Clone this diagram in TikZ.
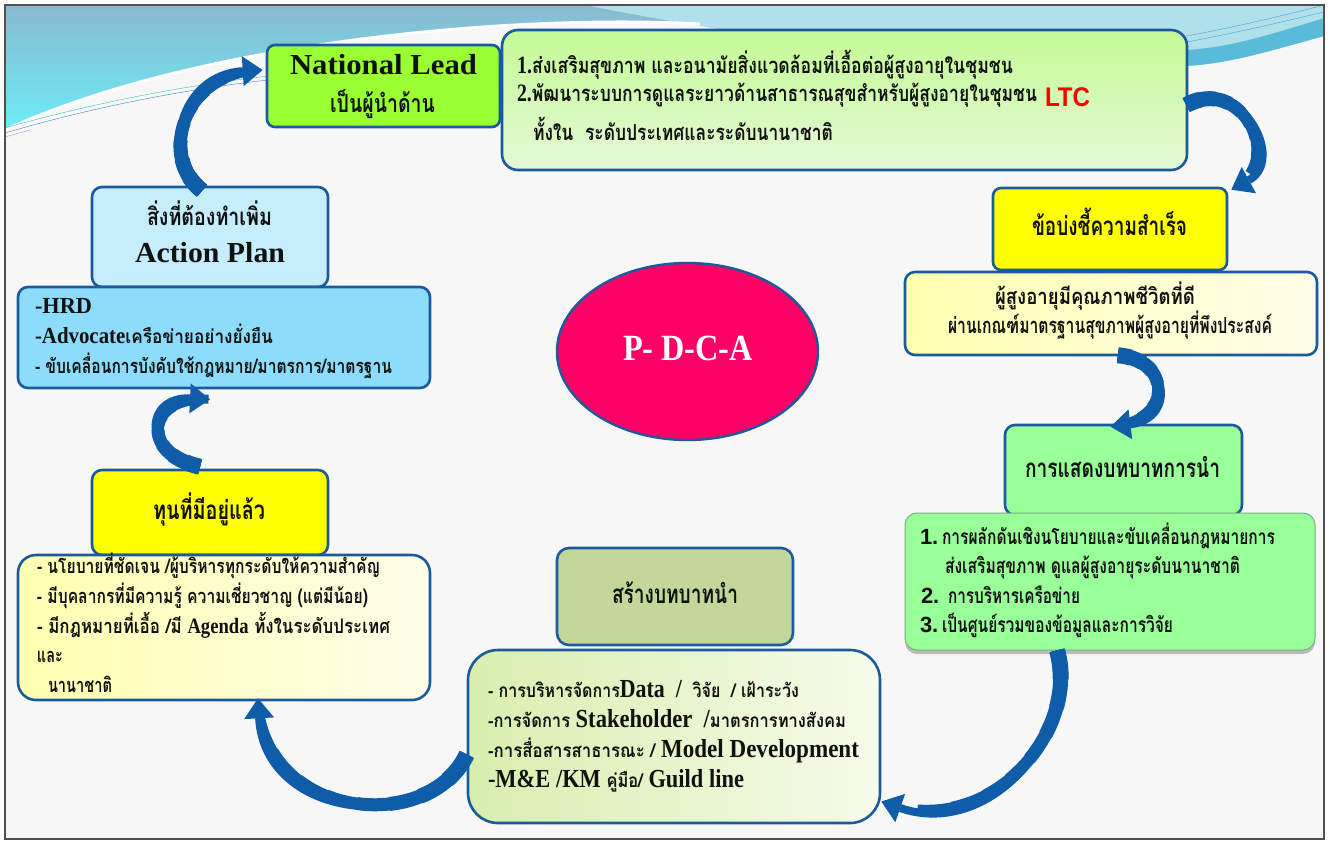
\documentclass[tikz,border=0pt]{standalone}
\usepackage{fontspec}
\usepackage{graphicx}
\setmainfont{Liberation Serif}
\newfontfamily\thaifont[Script=Thai]{Loma}
\newfontfamily\lsans{Liberation Sans}
\usetikzlibrary{calc,arrows.meta,shadows,shapes.geometric}

% text helpers: Thai bold, Latin serif bold, Latin sans bold
\newcommand{\thx}[2]{{\thaifont\bfseries\fontsize{#1}{#1}\selectfont #2}}
\newcommand{\latb}[2]{{\bfseries\fontsize{#1}{#1}\selectfont #2}}
\newcommand{\sanb}[2]{{\lsans\bfseries\fontsize{#1}{#1}\selectfont #2}}
% set a line to a given width, keeping its height
\newcommand{\fitto}[2]{\resizebox{#1pt}{\height}{#2}}
% curved block arrow: thick at its tail, thinning towards the head
% #1 = path, #2 = approximate path length
\newcommand{\flowarrow}[2]{%
  \foreach \w/\f in {16/0.10, 15/0.20, 14/0.30, 13/0.40, 12/0.50, 11/0.60, 10/0.72, 9/0.84}{%
    \pgfmathsetmacro\dashlen{\f*#2}%
    \draw[draw=arrowblue, line width=\w pt, dash pattern=on \dashlen pt off 4000pt] #1;
  }%
  \draw[flow] #1;
}

\definecolor{edgeblue}{HTML}{1B5A9C}
\definecolor{arrowblue}{HTML}{0F5CA8}
\definecolor{paper}{HTML}{F7F7F7}
\definecolor{framegray}{HTML}{505050}
\definecolor{skytop}{HTML}{88BACF}
\definecolor{skycyan}{HTML}{6CECF8}
\definecolor{swirl}{HTML}{B0E0EA}
\definecolor{swirldark}{HTML}{5ABBD9}
\definecolor{streamteal}{HTML}{35C6B9}
\definecolor{streamblue}{HTML}{4A80C8}
\definecolor{streamsky}{HTML}{4AA0D8}
\definecolor{streamgray}{HTML}{A8A8A8}
\definecolor{lime}{HTML}{99FF33}
\definecolor{goalA}{HTML}{C4FA95}
\definecolor{goalB}{HTML}{E4F9D6}
\definecolor{sunny}{HTML}{FFFF00}
\definecolor{creamA}{HTML}{FFFFB0}
\definecolor{creamB}{HTML}{FEFDE8}
\definecolor{mint}{HTML}{99FF99}
\definecolor{mintedge}{HTML}{79B079}
\definecolor{olive}{HTML}{C4D79B}
\definecolor{paleA}{HTML}{D8EEAE}
\definecolor{paleB}{HTML}{F6FBEA}
\definecolor{iceblue}{HTML}{C6EDFB}
\definecolor{skyblue}{HTML}{8DDCFB}
\definecolor{hotpink}{HTML}{FF0066}
\definecolor{ltcred}{HTML}{FF0000}
\definecolor{inkblack}{HTML}{111111}

\begin{document}
\begin{tikzpicture}[x=1pt,y=-1pt,
  panel/.style={draw=edgeblue, line width=2.6pt, rounded corners=10pt, inner sep=0pt},
  lbl/.style={inner sep=0pt, outer sep=0pt, anchor=base west, text=inkblack},
  flow/.style={draw=arrowblue, line width=8pt,
    -{Triangle[width=30pt,length=20pt,line width=0pt]}},
]
\useasboundingbox (0,0) rectangle (1330,844);
\fill[white] (0,0) rectangle (1330,844);
\fill[paper] (5,5) rectangle (1324,839);

% sky band, upper left
\shade[top color=skytop, bottom color=skycyan]
  (5,5) -- (700,5) -- (700,24) .. controls (520,14) and (200,40) .. (5,130) -- cycle;
% swoosh, upper right
\fill[swirl] (585,5) -- (1324,5) -- (1324,36)
  .. controls (1260,54) and (1225,64) .. (1185,66)
  .. controls (1000,72) and (760,40) .. (585,5) -- cycle;
\fill[swirldark] (1324,18) .. controls (1260,38) and (1225,48) .. (1185,50)
  .. controls (1100,54) and (1000,50) .. (900,40)
  .. controls (1000,58) and (1100,68) .. (1185,66)
  .. controls (1225,64) and (1260,54) .. (1324,36) -- cycle;
\draw[draw=white, line width=3pt] (5,130) .. controls (200,40) and (520,14) .. (700,24);
% thin streamers
\draw[draw=streamteal] (5,128) .. controls (90,104) and (180,86) .. (268,76);
\draw[draw=streamblue] (5,133) .. controls (90,108) and (180,90) .. (268,80);
\draw[draw=streamgray] (5,137) -- (30,130);
\draw[draw=streamsky] (1187,36) .. controls (1240,26) and (1290,14) .. (1324,5);
\draw[draw=streamsky] (1187,42) .. controls (1240,32) and (1290,20) .. (1324,12);
\draw[draw=framegray, line width=1.2pt] (5,5) rectangle (1324,839);

% ---------- boxes ----------
\node[panel, fill=lime, rounded corners=8pt, minimum width=233pt, minimum height=82pt] (nl) at (383.5,86) {};
\node[panel, top color=goalA, bottom color=goalB, rounded corners=16pt, minimum width=685pt, minimum height=140pt] (goal) at (844.5,100) {};

\node[panel, fill=sunny, rounded corners=8pt, minimum width=234pt, minimum height=82pt] (succ) at (1110,229) {};
\node[panel, left color=creamA, right color=creamB, minimum width=412pt, minimum height=83pt] (succd) at (1111,313.5) {};

\node[panel, fill=mint, minimum width=237pt, minimum height=90pt] (role) at (1123.5,470) {};
\node[draw=mintedge, line width=1pt, fill=mint, rounded corners=12pt, inner sep=0pt,
  drop shadow={shadow xshift=0pt, shadow yshift=-4pt, fill=black!45, opacity=.55},
  minimum width=410pt, minimum height=137pt] (roled) at (1110,581.5) {};

\node[panel, fill=olive, rounded corners=12pt, minimum width=236pt, minimum height=97pt] (build) at (675,596.5) {};
\node[panel, left color=paleA, right color=paleB, rounded corners=30pt, minimum width=412pt, minimum height=173pt] (buildd) at (674,736.5) {};

\node[panel, fill=iceblue, minimum width=236pt, minimum height=100pt] (act) at (210,237) {};
\node[panel, fill=skyblue, minimum width=412pt, minimum height=101pt] (actd) at (224,337.5) {};

\node[panel, fill=sunny, minimum width=236pt, minimum height=85pt] (cap) at (210,512.5) {};
\node[panel, left color=creamA, right color=creamB, rounded corners=18pt, minimum width=412pt, minimum height=145pt] (capd) at (224,627.5) {};

\node[ellipse, draw=edgeblue, line width=2.4pt, fill=hotpink, minimum width=261pt, minimum height=177pt, inner sep=0pt] (pdca) at (687.5,351.5) {};

% ---------- texts ----------
\node[lbl] (nlA) at (290,74) {\fitto{187}{\latb{29}{National Lead}}};
\node[lbl] (nlB) at (330,112) {\fitto{105}{\thx{25}{เป็นผู้นำด้าน}}};

\node[lbl] (goalA1) at (517,73) {\fitto{496}{\latb{25}{1.}\thx{22}{ส่งเสริมสุขภาพ และอนามัยสิ่งแวดล้อมที่เอื้อต่อผู้สูงอายุในชุมชน}}};
\node[lbl] (goalA2) at (517,101) {\fitto{520}{\latb{25}{2.}\thx{22}{พัฒนาระบบการดูแลระยาวด้านสาธารณสุขสำหรับผู้สูงอายุในชุมชน}}};
\node[lbl, text=ltcred] (ltc) at (1045,106) {\fitto{45}{\sanb{27}{LTC}}};
\node[lbl] (goalA3) at (533,140) {\fitto{300}{\thx{22}{ทั้งใน\ \ ระดับประเทศและระดับนานาชาติ}}};

\node[lbl] (succT) at (1032,235) {\fitto{155}{\thx{26}{ข้อบ่งชี้ความสำเร็จ}}};
\node[lbl] (succT1) at (995,304) {\fitto{200}{\thx{22}{ผู้สูงอายุมีคุณภาพชีวิตที่ดี}}};
\node[lbl] (succT2) at (948,333) {\fitto{324}{\thx{22}{ผ่านเกณฑ์มาตรฐานสุขภาพผู้สูงอายุที่พึงประสงค์}}};

\node[lbl] (roleT) at (1025,477) {\fitto{195}{\thx{26}{การแสดงบทบาทการนำ}}};
\node[lbl] (roleN1) at (920,544) {\sanb{22}{1.}};
\node[lbl] (roleT1) at (942,544) {\fitto{333}{\thx{21}{การผลักดันเชิงนโยบายและขับเคลื่อนกฎหมายการ}}};
\node[lbl] (roleT1b) at (945,573) {\fitto{295}{\thx{21}{ส่งเสริมสุขภาพ ดูแลผู้สูงอายุระดับนานาชาติ}}};
\node[lbl] (roleN2) at (921,603) {\sanb{22}{2.}};
\node[lbl] (roleT2) at (948,603) {\fitto{132}{\thx{21}{การบริหารเครือข่าย}}};
\node[lbl] (roleN3) at (920,632) {\sanb{22}{3.}};
\node[lbl] (roleT3) at (942,632) {\fitto{231}{\thx{21}{เป็นศูนย์รวมของข้อมูลและการวิจัย}}};

\node[lbl] (buildT) at (612,603) {\fitto{126}{\thx{26}{สร้างบทบาทนำ}}};
\node[lbl] (buildT1) at (488,697) {\fitto{311}{\thx{19}{- การบริหารจัดการ}\latb{26}{Data\ \ /}\thx{19}{\ \ วิจัย\ \ / เฝ้าระวัง}}};
\node[lbl] (buildT2) at (488,727) {\fitto{358}{\thx{19}{-การจัดการ }\latb{26}{Stakeholder\ \ /}\thx{19}{มาตรการทางสังคม}}};
\node[lbl] (buildT3) at (488,757) {\fitto{371}{\thx{19}{-การสื่อสารสาธารณะ / }\latb{26}{Model Development}}};
\node[lbl] (buildT4) at (488,787) {\fitto{256}{\latb{26}{-M\&E /KM }\thx{19}{คู่มือ/ }\latb{26}{Guild line}}};

\node[lbl] (actT) at (147,225) {\fitto{125}{\thx{24}{สิ่งที่ต้องทำเพิ่ม}}};
\node[lbl] (actT2) at (135,262) {\fitto{150}{\latb{29}{Action Plan}}};
\node[lbl] (actT3) at (35,313) {\fitto{57}{\latb{23}{-HRD}}};
\node[lbl] (actT4) at (35,343) {\fitto{238}{\latb{23}{-Advocate}\thx{19}{เครือข่ายอย่างยั่งยืน}}};
\node[lbl] (actT5) at (35,373) {\fitto{357}{\thx{20}{- ขับเคลื่อนการบังคับใช้กฎหมาย/มาตรการ/มาตรฐาน}}};

\node[lbl] (capT) at (153,519) {\fitto{112}{\thx{26}{ทุนที่มีอยู่แล้ว}}};
\node[lbl] (capT1) at (37,573) {\fitto{343}{\thx{20}{- นโยบายที่ชัดเจน /ผู้บริหารทุกระดับให้ความสำคัญ}}};
\node[lbl] (capT2) at (37,603) {\fitto{331}{\thx{20}{- มีบุคลากรที่มีความรู้ ความเชี่ยวชาญ (แต่มีน้อย)}}};
\node[lbl] (capT3) at (37,633) {\fitto{353}{\thx{20}{- มีกฎหมายที่เอื้อ /มี }\latb{22}{Agenda}\thx{20}{ ทั้งในระดับประเทศ}}};
\node[lbl] (capT4) at (37,662) {\fitto{26}{\thx{20}{และ}}};
\node[lbl] (capT5) at (48,692) {\fitto{64}{\thx{20}{นานาชาติ}}};

\node[lbl, text=white] (pdcaT) at (623,360) {\fitto{130}{\latb{37}{P- D-C-A}}};

% ---------- cycle arrows ----------
\flowarrow{($(act.north)+(-8,5)$) .. controls +(-42,-32) and +(-84,5) .. ($(nl.west)+(-3,-16)$)}{190}
\flowarrow{($(goal.east)+(-2,5)$) .. controls +(55,-30) and +(55,-30) .. ($(succ.north east)+(3,3)$)}{150}
\flowarrow{($(succd.south)+(7,-1)$) .. controls +(52,4) and +(65,-8) .. ($(role.north)+(-13,3)$)}{130}
\flowarrow{($(roled.south)+(-53,0)$) .. controls +(23,80) and +(110,38) .. ($(buildd.east)+(0,65)$)}{290}
\flowarrow{($(buildd.west)+(0,18)$) .. controls +(-38,80) and +(7,123) .. ($(capd.south)+(34,-3)$)}{320}
\flowarrow{($(cap.north)+(-10,-2)$) .. controls +(-60,-13) and +(-65,-3) .. ($(actd.south)+(-14,10)$)}{150}
\end{tikzpicture}
\end{document}
